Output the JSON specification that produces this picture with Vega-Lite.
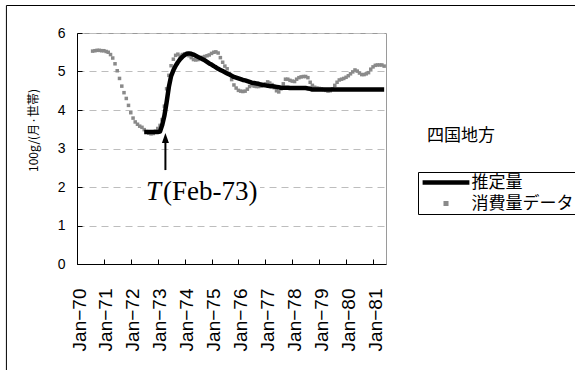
{
  "$schema": "https://vega.github.io/schema/vega-lite/v6.json",
  "autosize": "none",
  "width": 309,
  "height": 231,
  "padding": {"left": 77, "top": 33, "right": 189, "bottom": 106},
  "background": "white",
  "config": {
    "font": "Liberation Sans",
    "view": {"stroke": "#9a9a9a", "strokeWidth": 1}
  },
  "datasets": {
    "est": [
      {"d": "1972-07-01", "v": 3.43}, {"d": "1972-08-01", "v": 3.43}, {"d": "1972-09-01", "v": 3.43},
      {"d": "1972-10-01", "v": 3.43}, {"d": "1972-11-01", "v": 3.43}, {"d": "1972-12-01", "v": 3.43},
      {"d": "1973-01-01", "v": 3.43}, {"d": "1973-02-01", "v": 3.44}, {"d": "1973-03-01", "v": 3.6},
      {"d": "1973-04-01", "v": 3.85}, {"d": "1973-05-01", "v": 4.2}, {"d": "1973-06-01", "v": 4.6},
      {"d": "1973-07-01", "v": 4.88}, {"d": "1973-08-01", "v": 5.03}, {"d": "1973-09-01", "v": 5.15},
      {"d": "1973-10-01", "v": 5.24}, {"d": "1973-11-01", "v": 5.32}, {"d": "1973-12-01", "v": 5.38},
      {"d": "1974-01-01", "v": 5.43}, {"d": "1974-02-01", "v": 5.46}, {"d": "1974-03-01", "v": 5.47},
      {"d": "1974-04-01", "v": 5.46}, {"d": "1974-05-01", "v": 5.44}, {"d": "1974-06-01", "v": 5.41},
      {"d": "1974-07-01", "v": 5.38}, {"d": "1974-08-01", "v": 5.35}, {"d": "1974-09-01", "v": 5.32},
      {"d": "1974-10-01", "v": 5.29}, {"d": "1974-11-01", "v": 5.25}, {"d": "1974-12-01", "v": 5.21},
      {"d": "1975-01-01", "v": 5.18}, {"d": "1975-02-01", "v": 5.14}, {"d": "1975-03-01", "v": 5.11},
      {"d": "1975-04-01", "v": 5.07}, {"d": "1975-05-01", "v": 5.04}, {"d": "1975-06-01", "v": 5.01},
      {"d": "1975-07-01", "v": 4.98}, {"d": "1975-08-01", "v": 4.95}, {"d": "1975-09-01", "v": 4.92},
      {"d": "1975-10-01", "v": 4.89}, {"d": "1975-11-01", "v": 4.86}, {"d": "1975-12-01", "v": 4.84},
      {"d": "1976-01-01", "v": 4.82}, {"d": "1976-02-01", "v": 4.8}, {"d": "1976-03-01", "v": 4.78},
      {"d": "1976-04-01", "v": 4.77}, {"d": "1976-05-01", "v": 4.75}, {"d": "1976-06-01", "v": 4.73},
      {"d": "1976-07-01", "v": 4.71}, {"d": "1976-08-01", "v": 4.7}, {"d": "1976-09-01", "v": 4.69},
      {"d": "1976-10-01", "v": 4.68}, {"d": "1976-11-01", "v": 4.66}, {"d": "1976-12-01", "v": 4.65},
      {"d": "1977-01-01", "v": 4.64}, {"d": "1977-02-01", "v": 4.63}, {"d": "1977-03-01", "v": 4.62},
      {"d": "1977-04-01", "v": 4.62}, {"d": "1977-05-01", "v": 4.61}, {"d": "1977-06-01", "v": 4.6},
      {"d": "1977-07-01", "v": 4.59}, {"d": "1977-08-01", "v": 4.58}, {"d": "1977-09-01", "v": 4.58},
      {"d": "1977-10-01", "v": 4.58}, {"d": "1977-11-01", "v": 4.58}, {"d": "1977-12-01", "v": 4.57},
      {"d": "1978-01-01", "v": 4.57}, {"d": "1978-02-01", "v": 4.57}, {"d": "1978-03-01", "v": 4.57},
      {"d": "1978-04-01", "v": 4.57}, {"d": "1978-05-01", "v": 4.57}, {"d": "1978-06-01", "v": 4.57},
      {"d": "1978-07-01", "v": 4.57}, {"d": "1978-08-01", "v": 4.56}, {"d": "1978-09-01", "v": 4.55},
      {"d": "1978-10-01", "v": 4.53}, {"d": "1978-11-01", "v": 4.53}, {"d": "1978-12-01", "v": 4.53},
      {"d": "1979-01-01", "v": 4.53}, {"d": "1979-02-01", "v": 4.53}, {"d": "1979-03-01", "v": 4.53},
      {"d": "1979-04-01", "v": 4.53}, {"d": "1979-05-01", "v": 4.53}, {"d": "1979-06-01", "v": 4.53},
      {"d": "1979-07-01", "v": 4.53}, {"d": "1979-08-01", "v": 4.53}, {"d": "1979-09-01", "v": 4.53},
      {"d": "1979-10-01", "v": 4.53}, {"d": "1979-11-01", "v": 4.53}, {"d": "1979-12-01", "v": 4.53},
      {"d": "1980-01-01", "v": 4.53}, {"d": "1980-02-01", "v": 4.53}, {"d": "1980-03-01", "v": 4.53},
      {"d": "1980-04-01", "v": 4.53}, {"d": "1980-05-01", "v": 4.53}, {"d": "1980-06-01", "v": 4.53},
      {"d": "1980-07-01", "v": 4.53}, {"d": "1980-08-01", "v": 4.53}, {"d": "1980-09-01", "v": 4.53},
      {"d": "1980-10-01", "v": 4.53}, {"d": "1980-11-01", "v": 4.53}, {"d": "1980-12-01", "v": 4.53},
      {"d": "1981-01-01", "v": 4.53}, {"d": "1981-02-01", "v": 4.53}, {"d": "1981-03-01", "v": 4.53},
      {"d": "1981-04-01", "v": 4.53}, {"d": "1981-05-01", "v": 4.53}, {"d": "1981-06-01", "v": 4.53}
    ],
    "obs": [
      {"d": "1970-08-01", "v": 5.53}, {"d": "1970-09-01", "v": 5.54}, {"d": "1970-10-01", "v": 5.55},
      {"d": "1970-11-01", "v": 5.55}, {"d": "1970-12-01", "v": 5.54}, {"d": "1971-01-01", "v": 5.54},
      {"d": "1971-02-01", "v": 5.52}, {"d": "1971-03-01", "v": 5.5}, {"d": "1971-04-01", "v": 5.44},
      {"d": "1971-05-01", "v": 5.35}, {"d": "1971-06-01", "v": 5.2}, {"d": "1971-07-01", "v": 5.02},
      {"d": "1971-08-01", "v": 4.82}, {"d": "1971-09-01", "v": 4.62}, {"d": "1971-10-01", "v": 4.45},
      {"d": "1971-11-01", "v": 4.3}, {"d": "1971-12-01", "v": 4.12}, {"d": "1972-01-01", "v": 3.93},
      {"d": "1972-02-01", "v": 3.79}, {"d": "1972-03-01", "v": 3.69}, {"d": "1972-04-01", "v": 3.63},
      {"d": "1972-05-01", "v": 3.58}, {"d": "1972-06-01", "v": 3.55}, {"d": "1972-07-01", "v": 3.49},
      {"d": "1972-08-01", "v": 3.44}, {"d": "1972-09-01", "v": 3.4}, {"d": "1972-10-01", "v": 3.38},
      {"d": "1972-11-01", "v": 3.39}, {"d": "1972-12-01", "v": 3.45}, {"d": "1973-01-01", "v": 3.52},
      {"d": "1973-02-01", "v": 3.6}, {"d": "1973-03-01", "v": 3.75}, {"d": "1973-04-01", "v": 4.1},
      {"d": "1973-05-01", "v": 4.55}, {"d": "1973-06-01", "v": 4.9}, {"d": "1973-07-01", "v": 5.15},
      {"d": "1973-08-01", "v": 5.32}, {"d": "1973-09-01", "v": 5.42}, {"d": "1973-10-01", "v": 5.45},
      {"d": "1973-11-01", "v": 5.4}, {"d": "1973-12-01", "v": 5.44}, {"d": "1974-01-01", "v": 5.46},
      {"d": "1974-02-01", "v": 5.47}, {"d": "1974-03-01", "v": 5.41}, {"d": "1974-04-01", "v": 5.36},
      {"d": "1974-05-01", "v": 5.31}, {"d": "1974-06-01", "v": 5.3}, {"d": "1974-07-01", "v": 5.31},
      {"d": "1974-08-01", "v": 5.34}, {"d": "1974-09-01", "v": 5.37}, {"d": "1974-10-01", "v": 5.39},
      {"d": "1974-11-01", "v": 5.41}, {"d": "1974-12-01", "v": 5.43}, {"d": "1975-01-01", "v": 5.47},
      {"d": "1975-02-01", "v": 5.5}, {"d": "1975-03-01", "v": 5.51}, {"d": "1975-04-01", "v": 5.48},
      {"d": "1975-05-01", "v": 5.36}, {"d": "1975-06-01", "v": 5.24}, {"d": "1975-07-01", "v": 5.14},
      {"d": "1975-08-01", "v": 5.07}, {"d": "1975-09-01", "v": 4.95}, {"d": "1975-10-01", "v": 4.79},
      {"d": "1975-11-01", "v": 4.65}, {"d": "1975-12-01", "v": 4.57}, {"d": "1976-01-01", "v": 4.51},
      {"d": "1976-02-01", "v": 4.49}, {"d": "1976-03-01", "v": 4.48}, {"d": "1976-04-01", "v": 4.49},
      {"d": "1976-05-01", "v": 4.54}, {"d": "1976-06-01", "v": 4.61}, {"d": "1976-07-01", "v": 4.65},
      {"d": "1976-08-01", "v": 4.62}, {"d": "1976-09-01", "v": 4.61}, {"d": "1976-10-01", "v": 4.61},
      {"d": "1976-11-01", "v": 4.62}, {"d": "1976-12-01", "v": 4.64}, {"d": "1977-01-01", "v": 4.68},
      {"d": "1977-02-01", "v": 4.73}, {"d": "1977-03-01", "v": 4.7}, {"d": "1977-04-01", "v": 4.66},
      {"d": "1977-05-01", "v": 4.58}, {"d": "1977-06-01", "v": 4.5}, {"d": "1977-07-01", "v": 4.47},
      {"d": "1977-08-01", "v": 4.55}, {"d": "1977-09-01", "v": 4.68}, {"d": "1977-10-01", "v": 4.8},
      {"d": "1977-11-01", "v": 4.8}, {"d": "1977-12-01", "v": 4.77}, {"d": "1978-01-01", "v": 4.75},
      {"d": "1978-02-01", "v": 4.74}, {"d": "1978-03-01", "v": 4.8}, {"d": "1978-04-01", "v": 4.84},
      {"d": "1978-05-01", "v": 4.86}, {"d": "1978-06-01", "v": 4.87}, {"d": "1978-07-01", "v": 4.87},
      {"d": "1978-08-01", "v": 4.84}, {"d": "1978-09-01", "v": 4.72}, {"d": "1978-10-01", "v": 4.64},
      {"d": "1978-11-01", "v": 4.59}, {"d": "1978-12-01", "v": 4.57}, {"d": "1979-01-01", "v": 4.56},
      {"d": "1979-02-01", "v": 4.55}, {"d": "1979-03-01", "v": 4.53}, {"d": "1979-04-01", "v": 4.51},
      {"d": "1979-05-01", "v": 4.49}, {"d": "1979-06-01", "v": 4.5}, {"d": "1979-07-01", "v": 4.55},
      {"d": "1979-08-01", "v": 4.64}, {"d": "1979-09-01", "v": 4.72}, {"d": "1979-10-01", "v": 4.78},
      {"d": "1979-11-01", "v": 4.8}, {"d": "1979-12-01", "v": 4.82}, {"d": "1980-01-01", "v": 4.85},
      {"d": "1980-02-01", "v": 4.89}, {"d": "1980-03-01", "v": 4.94}, {"d": "1980-04-01", "v": 4.99},
      {"d": "1980-05-01", "v": 5.04}, {"d": "1980-06-01", "v": 5.01}, {"d": "1980-07-01", "v": 4.96},
      {"d": "1980-08-01", "v": 4.92}, {"d": "1980-09-01", "v": 4.92}, {"d": "1980-10-01", "v": 4.94},
      {"d": "1980-11-01", "v": 4.97}, {"d": "1980-12-01", "v": 5.06}, {"d": "1981-01-01", "v": 5.12},
      {"d": "1981-02-01", "v": 5.16}, {"d": "1981-03-01", "v": 5.17}, {"d": "1981-04-01", "v": 5.17},
      {"d": "1981-05-01", "v": 5.17}, {"d": "1981-06-01", "v": 5.14}
    ],
    "notes": [
      {"kind": "frame", "d": "1967-05-19", "d2": "1989-01-01", "v": 6.714, "v2": -5},
      {"kind": "box", "d": "1972-05-19", "d2": "1976-10-20", "v": 2.12, "v2": 1.75},
      {"kind": "arrow", "d": "1973-04-15", "v": 2.44, "v2": 3.2},
      {"kind": "head", "d": "1973-04-15", "v": 3.27},
      {"kind": "label", "d": "1973-02-01", "v": 1.66, "t1": "T", "t2": "(Feb-73)"},
      {"kind": "region", "d": "1983-01-04", "v": 3.325, "t1": "四国地方"}
    ]
  },
  "encoding": {
    "x": {
      "field": "d",
      "type": "temporal",
      "scale": {
        "type": "utc",
        "domain": [
          {"year": 1970, "month": 1, "date": 1, "utc": true},
          {"year": 1981, "month": 6, "date": 26, "utc": true}
        ]
      },
      "axis": {
        "title": null,
        "grid": false,
        "tickCount": {"interval": "year", "step": 1},
        "labelExpr": "utcFormat(datum.value, '%b') + '−' + utcFormat(datum.value, '%y')",
        "labelAngle": 270,
        "labelFont": "Liberation Sans",
        "labelFontSize": 19,
        "labelColor": "black",
        "labelPadding": 29,
        "labelOffset": 2,
        "labelOverlap": false,
        "labelFlush": false,
        "domainColor": "black",
        "domainWidth": 1,
        "tickColor": "black",
        "tickSize": -5
      }
    },
    "y": {
      "field": "v",
      "type": "quantitative",
      "scale": {"domain": [0, 6], "nice": false, "zero": true},
      "axis": {
        "title": "100g/(月·世帯)",
        "titleFont": "Noto Sans CJK JP",
        "titleFontSize": 12,
        "titleFontWeight": "normal",
        "titleColor": "black",
        "titleAngle": 270,
        "titleX": -44,
        "titleY": 97,
        "titleAlign": "center",
        "titleBaseline": "middle",
        "values": [0, 1, 2, 3, 4, 5, 6],
        "format": "d",
        "labelFont": "Liberation Sans",
        "labelFontSize": 14,
        "labelColor": "black",
        "labelPadding": 17,
        "grid": true,
        "gridColor": "#bdbdbd",
        "gridDash": [7, 5],
        "gridWidth": 1,
        "domainColor": "black",
        "tickColor": "black",
        "tickSize": -5
      }
    }
  },
  "layer": [
    {
      "data": {"name": "notes"},
      "transform": [{"filter": "datum.kind === 'frame'"}],
      "mark": {"type": "rect", "fill": "transparent", "stroke": "black", "strokeWidth": 1, "clip": false},
      "encoding": {
        "x2": {"field": "d2"},
        "y2": {"field": "v2"}
      }
    },
    {
      "data": {"name": "obs"},
      "mark": {"type": "point", "filled": true, "size": 70, "opacity": 1, "strokeWidth": 0},
      "encoding": {
        "color": {
          "datum": "消費量データ",
          "type": "nominal",
          "scale": {"domain": ["推定量", "消費量データ"], "range": ["black", "#8a8a8a"]},
          "legend": {
            "orient": "none",
            "legendX": 341,
            "legendY": 139,
            "title": null,
            "strokeColor": "black",
            "padding": 2,
            "symbolSize": 144,
            "symbolStrokeWidth": 0,
            "symbolOffset": 17.5,
            "labelOffset": 17,
            "labelFont": "Noto Sans CJK JP",
            "labelFontSize": 17,
            "labelColor": "black",
            "rowPadding": 3
          }
        },
        "shape": {
          "datum": "消費量データ",
          "type": "nominal",
          "scale": {
            "domain": ["推定量", "消費量データ"],
            "range": ["M-3.9,-0.375H3.9V0.375H-3.9Z", "M-0.42,-0.42H0.42V0.42H-0.42Z"]
          },
          "legend": {
            "orient": "none",
            "legendX": 341,
            "legendY": 139,
            "title": null,
            "strokeColor": "black",
            "padding": 2,
            "symbolSize": 144,
            "symbolStrokeWidth": 0,
            "symbolOffset": 17.5,
            "labelOffset": 17,
            "labelFont": "Noto Sans CJK JP",
            "labelFontSize": 17,
            "labelColor": "black",
            "rowPadding": 3
          }
        }
      }
    },
    {
      "data": {"name": "est"},
      "mark": {"type": "line", "strokeWidth": 4.5, "strokeJoin": "round", "strokeCap": "butt"},
      "encoding": {
        "color": {"datum": "推定量", "type": "nominal", "legend": null}
      }
    },
    {
      "data": {"name": "notes"},
      "transform": [{"filter": "datum.kind === 'box'"}],
      "mark": {"type": "rect", "fill": "white", "stroke": null},
      "encoding": {
        "x2": {"field": "d2"},
        "y2": {"field": "v2"}
      }
    },
    {
      "data": {"name": "notes"},
      "transform": [{"filter": "datum.kind === 'arrow'"}],
      "mark": {"type": "rule", "color": "black", "strokeWidth": 2},
      "encoding": {
        "y2": {"field": "v2"}
      }
    },
    {
      "data": {"name": "notes"},
      "transform": [{"filter": "datum.kind === 'head'"}],
      "mark": {"type": "point", "shape": "M0,-1L-0.7,1L0.7,1Z", "filled": true, "color": "black", "size": 100, "opacity": 1},
      "encoding": {}
    },
    {
      "data": {"name": "notes"},
      "transform": [{"filter": "datum.kind === 'label'"}],
      "mark": {"type": "text", "font": "Liberation Serif", "fontStyle": "italic", "fontSize": 27, "align": "right", "baseline": "alphabetic", "dx": 1, "color": "black"},
      "encoding": {
        "text": {"field": "t1"}
      }
    },
    {
      "data": {"name": "notes"},
      "transform": [{"filter": "datum.kind === 'label'"}],
      "mark": {"type": "text", "font": "Liberation Serif", "fontSize": 27, "align": "left", "baseline": "alphabetic", "dx": 3, "color": "black"},
      "encoding": {
        "text": {"field": "t2"}
      }
    },
    {
      "data": {"name": "notes"},
      "transform": [{"filter": "datum.kind === 'region'"}],
      "mark": {"type": "text", "font": "Noto Sans CJK JP", "fontSize": 17, "align": "left", "baseline": "middle", "color": "black", "clip": false},
      "encoding": {
        "text": {"field": "t1"}
      }
    }
  ]
}
